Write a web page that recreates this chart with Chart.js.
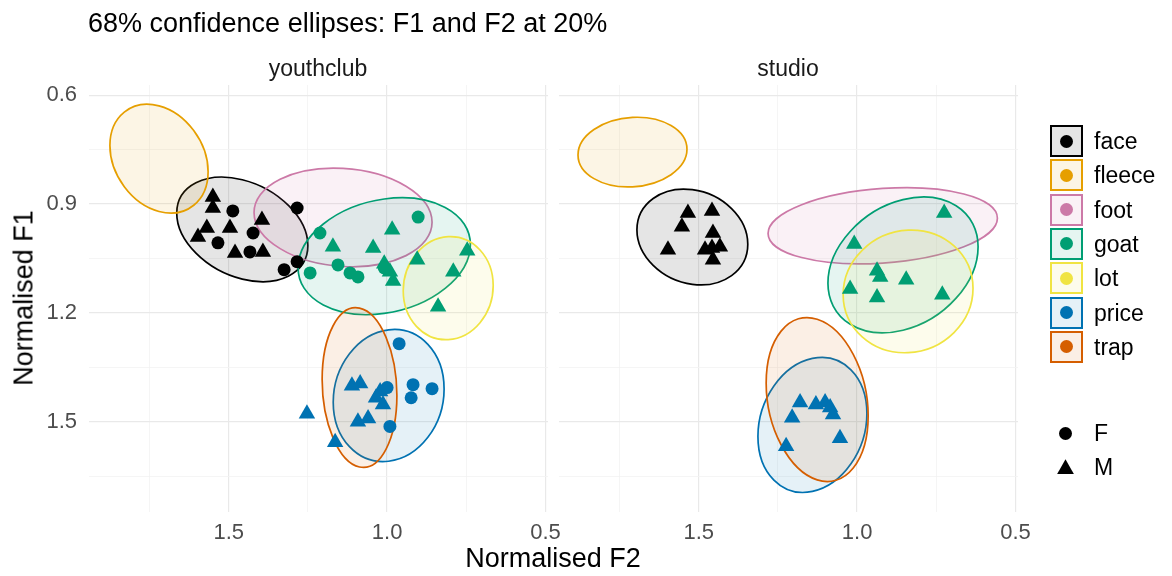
<!DOCTYPE html>
<html>
<head>
<meta charset="utf-8">
<script src="https://cdn.jsdelivr.net/npm/chart.js@4.4.1/dist/chart.umd.min.js"></script>
<style>
  body { margin: 0; background: #fff; font-family: "Liberation Sans", Arial, sans-serif; }
  #wrap { position: relative; width: 1172px; height: 576px; overflow: hidden; background: #fff; }
  canvas { position: absolute; left: 0; top: 0; }
  .txt { position: absolute; white-space: nowrap; line-height: 1; }
  .mid { transform: translate(-50%, -50%); }
  .key { position: absolute; box-sizing: border-box; width: 33px; height: 32px; border: 2px solid; }
  .dot { position: absolute; width: 13px; height: 13px; border-radius: 50%; }
  .tri { position: absolute; width: 17px; height: 15px; background: #000; clip-path: polygon(50% 0, 100% 100%, 0 100%); }
</style>
</head>
<body>
<div id="wrap">
  <canvas id="youthclub" width="1172" height="576"></canvas>
  <canvas id="studio" width="1172" height="576"></canvas>
  <div class="txt" style="left:88px; top:23px; transform:translateY(-50%); font-size:27px; color:#000;">68% confidence ellipses: F1 and F2 at 20%</div>
  <div class="txt mid" style="left:318px; top:68px; font-size:23px; color:#1a1a1a;">youthclub</div>
  <div class="txt mid" style="left:788px; top:68px; font-size:23px; color:#1a1a1a;">studio</div>
  <div class="txt mid" style="left:553px; top:558px; font-size:27px; color:#000;">Normalised F2</div>
  <div class="txt" style="left:24px; top:298px; transform:translate(-50%, -50%) rotate(-90deg); font-size:27px; color:#000;">Normalised F1</div>
  <div id="legend"></div>
</div>
<script>
// vowels and their colours
const vowels = ['face', 'fleece', 'foot', 'goat', 'lot', 'price', 'trap'];
const vowelColours = ['#000000', '#E69F00', '#CC79A7', '#009E73', '#F0E442', '#0072B2', '#D55E00'];
const sexes = ['F', 'M'];

const xTicksMajor = [0.5, 1.0, 1.5];
const xTicksMinor = [0.75, 1.25, 1.75];
const yTicksMajor = [0.6, 0.9, 1.2, 1.5];
const yTicksMinor = [0.75, 1.05, 1.35, 1.65];

// youthclub tokens, [F2, F1]
const youthclubFaceF = [[1.487, 0.919], [1.423, 0.980], [1.534, 1.007], [1.433, 1.032], [1.284, 0.911], [1.284, 1.059], [1.325, 1.081]];
const youthclubFaceM = [[1.550, 0.881], [1.550, 0.911], [1.569, 0.966], [1.597, 0.991], [1.496, 0.966], [1.480, 1.035], [1.395, 0.944], [1.392, 1.032]];
const youthclubGoatF = [[1.212, 0.980], [0.902, 0.936], [1.243, 1.090], [1.155, 1.068], [1.117, 1.090], [1.092, 1.101], [1.009, 1.076]];
const youthclubGoatM = [[0.984, 0.971], [1.171, 1.018], [1.044, 1.021], [1.009, 1.065], [0.991, 1.087], [0.981, 1.112], [0.905, 1.054], [0.747, 1.029], [0.791, 1.087], [0.839, 1.183]];
const youthclubPriceF = [[0.962, 1.285], [0.918, 1.398], [0.858, 1.409], [0.924, 1.434], [1.000, 1.406], [0.991, 1.513]];
const youthclubPriceM = [[1.111, 1.401], [1.085, 1.395], [1.022, 1.417], [1.035, 1.434], [1.013, 1.453], [1.092, 1.500], [1.060, 1.491], [1.253, 1.478], [1.164, 1.557]];

// studio tokens, [F2, F1]
const studioFaceM = [[1.534, 0.925], [1.458, 0.919], [1.553, 0.963], [1.597, 1.026], [1.455, 0.980], [1.480, 1.026], [1.433, 1.018], [1.455, 1.054], [1.458, 1.021]];
const studioGoatM = [[0.725, 0.925], [1.009, 1.010], [0.937, 1.084], [0.927, 1.101], [0.845, 1.109], [1.022, 1.134], [0.937, 1.158], [0.731, 1.150]];
const studioPriceM = [[1.180, 1.447], [1.130, 1.453], [1.101, 1.447], [1.085, 1.461], [1.076, 1.480], [1.205, 1.489], [1.054, 1.546], [1.224, 1.568]];

// ellipses (one per vowel): centre, half-extent, correlation
const youthclubEllF2 = [1.457, 1.720, 1.139, 1.009, 0.807, 0.995, 1.087];
const youthclubEllF1 = [0.970, 0.775, 0.937, 1.044, 1.132, 1.428, 1.406];
const youthclubEllSdF2 = [0.207, 0.155, 0.281, 0.272, 0.142, 0.175, 0.118];
const youthclubEllSdF1 = [0.144, 0.150, 0.136, 0.161, 0.142, 0.182, 0.220];
const youthclubEllRho = [-0.31, -0.24, -0.1, 0.2, 0.05, 0.1, -0.1];

const studioEllF2 = [1.520, 1.709, 0.919, 0.855, 0.839, 1.141, 1.126];
const studioEllF1 = [0.991, 0.757, 0.960, 1.068, 1.141, 1.509, 1.439];
const studioEllSdF2 = [0.175, 0.172, 0.362, 0.237, 0.205, 0.172, 0.161];
const studioEllSdF1 = [0.132, 0.096, 0.105, 0.187, 0.169, 0.186, 0.226];
const studioEllRho = [-0.15, 0.08, 0.2, 0.27, 0.05, 0.17, -0.2];

Chart.defaults.font.family = '"Liberation Sans", Arial, sans-serif';

function hexA(hex, a) {
	const n = parseInt(hex.slice(1), 16);
	return 'rgba(' + (n >> 16) + ',' + ((n >> 8) & 255) + ',' + (n & 255) + ',' + a + ')';
}

function pointSet(pairs, vowel, sex) {
	const i = vowels.indexOf(vowel);
	return {
		label: vowel + ' ' + sex,
		data: pairs.map(p => ({ x: p[0], y: p[1] })),
		backgroundColor: vowelColours[i],
		borderWidth: 0,
		pointStyle: sex === 'F' ? 'circle' : 'triangle',
		pointRadius: sex === 'F' ? 6.5 : 9.5,
		pointHoverRadius: sex === 'F' ? 6.5 : 9.5
	};
}

function ellipseLayer(cx, cy, sx, sy, rho) {
	return {
		id: 'ellipses',
		beforeDatasetsDraw(chart) {
			const { ctx, chartArea, scales: { x, y } } = chart;
			ctx.save();
			ctx.beginPath();
			ctx.rect(chartArea.left, chartArea.top, chartArea.width, chartArea.height);
			ctx.clip();
			vowels.forEach((v, i) => {
				const px = x.getPixelForValue(cx[i]);
				const py = y.getPixelForValue(cy[i]);
				const ux = x.getPixelForValue(cx[i] + sx[i]) - px;
				const uy = y.getPixelForValue(cy[i] + rho[i] * sy[i]) - py;
				const vy = y.getPixelForValue(cy[i] + Math.sqrt(1 - rho[i] * rho[i]) * sy[i]) - py;
				ctx.save();
				ctx.transform(ux, uy, 0, vy, px, py);
				ctx.beginPath();
				ctx.arc(0, 0, 1, 0, Math.PI * 2);
				ctx.restore();
				ctx.fillStyle = hexA(vowelColours[i], 0.1);
				ctx.fill();
				ctx.strokeStyle = vowelColours[i];
				ctx.lineWidth = 1.7;
				ctx.stroke();
			});
			ctx.restore();
		}
	};
}

function gridStyle(majors) {
	return {
		drawTicks: false,
		color: c => (c.tick && majors.includes(c.tick.value)) ? '#e9e9e9' : '#f2f2f2',
		lineWidth: c => (c.tick && majors.includes(c.tick.value)) ? 1.2 : 0.8
	};
}

function makePanel(id, datasets, ell, leftWidth, rightPad, showY) {
	new Chart(document.getElementById(id), {
		type: 'scatter',
		data: { datasets: datasets },
		options: {
			responsive: false,
			animation: false,
			events: [],
			layout: { padding: { left: 0, right: rightPad, top: 85, bottom: 0 } },
			plugins: { legend: { display: false }, tooltip: { enabled: false } },
			scales: {
				x: {
					type: 'linear', reverse: true, min: 0.492, max: 1.941,
					afterBuildTicks: a => { a.ticks = xTicksMajor.concat(xTicksMinor).sort((p, q) => p - q).map(v => ({ value: v })); },
					afterFit: a => { a.height = 64; },
					border: { display: false },
					grid: gridStyle(xTicksMajor),
					ticks: {
						autoSkip: false, maxRotation: 0, padding: 8, color: '#4d4d4d', font: { size: 22 },
						callback: v => xTicksMajor.includes(v) ? v.toFixed(1) : ''
					}
				},
				y: {
					type: 'linear', reverse: true, min: 0.572, max: 1.749,
					afterBuildTicks: a => { a.ticks = yTicksMajor.concat(yTicksMinor).sort((p, q) => p - q).map(v => ({ value: v })); },
					afterFit: a => { a.width = leftWidth; },
					border: { display: false },
					grid: gridStyle(yTicksMajor),
					ticks: {
						display: showY, autoSkip: false, padding: 12, color: '#4d4d4d', font: { size: 22 },
						callback: v => yTicksMajor.includes(v) ? v.toFixed(1) : ''
					}
				}
			}
		},
		plugins: [ellipseLayer(ell[0], ell[1], ell[2], ell[3], ell[4])]
	});
}

makePanel('youthclub', [
	pointSet(youthclubFaceF, 'face', 'F'),
	pointSet(youthclubFaceM, 'face', 'M'),
	pointSet(youthclubGoatF, 'goat', 'F'),
	pointSet(youthclubGoatM, 'goat', 'M'),
	pointSet(youthclubPriceF, 'price', 'F'),
	pointSet(youthclubPriceM, 'price', 'M')
], [youthclubEllF2, youthclubEllF1, youthclubEllSdF2, youthclubEllSdF1, youthclubEllRho], 89, 624, true);

makePanel('studio', [
	pointSet(studioFaceM, 'face', 'M'),
	pointSet(studioGoatM, 'goat', 'M'),
	pointSet(studioPriceM, 'price', 'M')
], [studioEllF2, studioEllF1, studioEllSdF2, studioEllSdF1, studioEllRho], 559, 154, false);

// legends
const legend = document.getElementById('legend');
vowels.forEach((v, i) => {
	const cy = 141 + i * 34.3;
	const key = document.createElement('div');
	key.className = 'key';
	key.style.left = '1050px';
	key.style.top = (cy - 16) + 'px';
	key.style.borderColor = vowelColours[i];
	key.style.background = hexA(vowelColours[i], 0.1);
	legend.appendChild(key);
	const dot = document.createElement('div');
	dot.className = 'dot';
	dot.style.left = (1066.5 - 6.5) + 'px';
	dot.style.top = (cy - 6.5) + 'px';
	dot.style.background = vowelColours[i];
	legend.appendChild(dot);
	const t = document.createElement('div');
	t.className = 'txt';
	t.style.left = '1094px';
	t.style.top = cy + 'px';
	t.style.transform = 'translateY(-50%)';
	t.style.fontSize = '23px';
	t.style.color = '#000';
	t.textContent = v;
	legend.appendChild(t);
});
sexes.forEach((s, i) => {
	const cy = 433 + i * 34.3;
	const m = document.createElement('div');
	if (s === 'F') {
		m.className = 'dot';
		m.style.left = '1059px';
		m.style.top = (cy - 6.5) + 'px';
		m.style.background = '#000';
	} else {
		m.className = 'tri';
		m.style.left = '1057px';
		m.style.top = (cy - 8) + 'px';
	}
	legend.appendChild(m);
	const t = document.createElement('div');
	t.className = 'txt';
	t.style.left = '1094px';
	t.style.top = cy + 'px';
	t.style.transform = 'translateY(-50%)';
	t.style.fontSize = '23px';
	t.style.color = '#000';
	t.textContent = s;
	legend.appendChild(t);
});
</script>
</body>
</html>
